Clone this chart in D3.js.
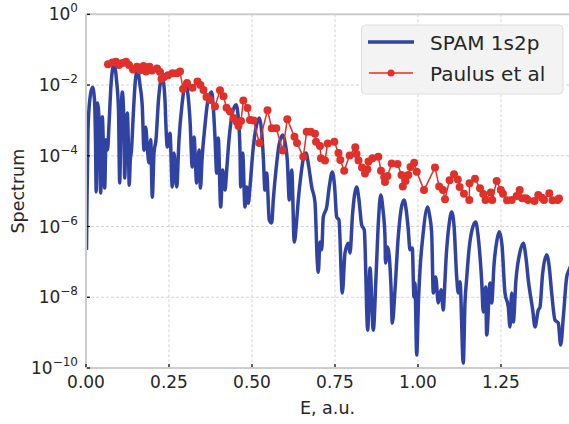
<!DOCTYPE html>
<html><head><meta charset="utf-8">
<script src="https://cdn.jsdelivr.net/npm/d3@7"></script>
<style>
body{margin:0;background:#fff}
svg{display:block}
text{font-family:"DejaVu Sans",sans-serif;fill:#262626}
</style>
</head><body>
<svg id="c" width="569" height="424"></svg>
<script>
// ---- data (E in a.u.; spectrum as log10 values) ----
const spamE = [
0.0015,0.0030,0.0060,0.0120,0.0196,0.0256,0.0286,0.0307,0.0340,0.0392,0.0443,0.0491,0.0527,0.0563,0.0602,0.0648,0.0693,0.0753,0.0843,
0.0919,0.0979,0.1015,0.1054,0.1093,0.1139,0.1166,0.1205,0.1244,0.1280,0.1301,0.1334,0.1370,0.1416,0.1476,0.1551,
0.1626,0.1696,0.1747,0.1798,0.1852,0.1898,0.1949,0.1997,0.2048,0.2108,0.2184,0.2298,
0.2379,0.2401,0.2449,0.2530,0.2599,0.2650,0.2732,0.2801,0.2891,0.3003,
0.3072,0.3133,0.3202,0.3253,0.3334,0.3404,0.3449,0.3494,0.3585,0.3675,0.3786,
0.3840,0.3885,0.3937,0.3985,0.4057,0.4117,0.4187,0.4238,0.4307,0.4398,0.4518,
0.4593,0.4638,0.4660,0.4720,0.4789,0.4840,0.4888,0.4940,0.5030,0.5120,0.5220,
0.5286,0.5340,0.5391,0.5442,0.5521,0.5593,0.5641,0.5723,0.5813,0.5925,
0.5994,0.6063,0.6124,0.6196,0.6274,0.6346,0.6394,0.6475,0.6551,0.6626,
0.6702,0.6798,0.6897,0.6967,0.6997,0.7048,0.7099,0.7147,0.7250,0.7334,0.7418,
0.7485,0.7551,0.7620,0.7720,0.7801,0.7900,0.7952,0.8027,0.8153,
0.8223,0.8304,0.8382,0.8485,0.8554,0.8653,0.8735,0.8810,0.8876,
0.8946,0.9006,0.9021,0.9087,0.9187,0.9226,0.9307,0.9398,0.9488,0.9578,
0.9653,0.9708,0.9759,0.9828,0.9879,0.9909,0.9961,1.0015,1.0060,1.0150,1.0292,
1.0346,1.0412,1.0461,1.0533,1.0611,1.0693,1.0762,1.0798,1.0843,1.0934,1.1015,
1.1084,1.1166,1.1214,1.1265,1.1364,1.1415,1.1467,1.1536,1.1626,1.1738,
1.1807,1.1919,1.1967,1.2039,1.2069,1.2169,1.2220,1.2289,1.2379,1.2449,
1.2530,1.2620,1.2720,1.2771,1.2822,1.2870,1.2951,1.3072,1.3171,
1.3253,1.3322,1.3455,1.3524,1.3623,1.3674,1.3750,1.3876,
1.3946,1.4027,1.4126,1.4226,1.4298,1.4377,1.4479,1.4548,1.4668];
const spamLog10 = [
-6.66,-5.25,-3.27,-2.37,-2.06,-2.42,-3.55,-5.02,-2.51,-2.93,-5.05,-2.90,-3.84,-4.91,-3.55,-3.84,-3.13,-2.00,-1.41,
-1.86,-2.71,-4.77,-2.99,-2.20,-2.99,-4.63,-3.27,-2.79,-3.84,-4.83,-4.12,-3.84,-2.99,-2.00,-1.57,
-2.00,-2.62,-3.84,-3.19,-3.84,-4.20,-3.55,-5.17,-3.92,-3.55,-2.42,-1.77,
-2.42,-2.99,-3.75,-3.36,-4.88,-3.92,-4.88,-3.55,-2.56,-1.94,
-2.28,-2.99,-4.32,-3.47,-4.77,-3.84,-4.91,-4.12,-3.13,-2.42,-2.20,
-2.71,-3.47,-4.49,-3.50,-5.45,-4.40,-4.97,-4.40,-3.55,-2.85,-2.56,
-2.99,-3.84,-4.88,-3.92,-5.45,-4.88,-5.34,-4.88,-3.84,-3.21,-2.93,
-3.27,-4.03,-4.97,-4.49,-5.82,-5.90,-5.25,-4.40,-3.70,-3.41,
-3.61,-4.12,-5.25,-4.40,-6.44,-5.82,-5.25,-4.54,-4.06,-3.92,
-4.26,-4.88,-5.31,-7.00,-7.29,-6.44,-6.66,-5.73,-5.45,-4.83,-4.46,
-4.83,-5.73,-5.82,-7.88,-6.75,-6.47,-6.75,-5.67,-4.88,
-5.25,-5.96,-6.10,-8.93,-7.17,-8.93,-7.43,-5.82,-5.11,
-5.53,-6.30,-7.03,-6.58,-7.71,-8.73,-7.79,-6.38,-5.53,-5.25,
-5.59,-6.10,-6.66,-6.61,-7.99,-7.60,-9.63,-8.08,-7.23,-6.24,-5.45,
-5.67,-6.18,-7.88,-7.43,-8.16,-7.79,-8.36,-7.79,-6.95,-5.96,-5.59,
-5.96,-7.43,-7.88,-7.56,-9.86,-8.16,-7.46,-6.66,-6.10,-5.87,
-6.24,-7.56,-8.42,-7.71,-9.07,-7.60,-8.16,-7.09,-6.38,-6.15,
-6.52,-7.88,-8.28,-8.84,-7.88,-8.70,-7.51,-6.72,-6.47,
-6.89,-7.51,-8.36,-8.84,-8.36,-8.28,-7.37,-6.80,
-7.09,-7.88,-8.64,-8.73,-9.35,-8.56,-7.43,-7.23,-7.00];

const paulusE = [
0.0663,0.0798,0.0904,0.0994,0.1099,0.1205,0.1295,0.1416,0.1536,0.1626,0.1732,0.1807,0.1913,0.1988,0.2139,
0.2229,0.2274,0.2349,0.2470,0.2605,0.2741,0.2831,0.2922,0.3042,0.3208,0.3358,0.3449,0.3539,0.3629,0.3735,
0.3885,0.4036,0.4142,0.4232,0.4337,0.4443,0.4539,0.4593,0.4669,0.4738,0.4864,0.4940,0.5045,0.5220,0.5467,
0.5593,0.5732,0.5925,0.6063,0.6280,0.6355,0.6545,0.6647,0.6768,0.6897,0.6928,0.7048,0.7078,0.7199,0.7280,
0.7479,0.7605,0.7660,0.7777,0.7940,0.8111,0.8147,0.8208,0.8313,0.8403,0.8479,0.8509,0.8629,0.8804,0.8885,
0.8982,0.9006,0.9081,0.9208,0.9382,0.9503,0.9542,0.9623,0.9708,0.9774,0.9885,0.9961,1.0181,1.0512,1.0638,
1.0753,1.0813,1.0952,1.1084,1.1199,1.1256,1.1385,1.1545,1.1551,1.1717,1.1867,1.1967,1.2033,1.2193,1.2235,
1.2370,1.2494,1.2560,1.2681,1.2822,1.2973,1.3063,1.3138,1.3253,1.3313,1.3509,1.3623,1.3735,1.3795,1.3955,
1.4051,1.4202,1.4247];
const paulusLog10 = [
-1.41,-1.36,-1.34,-1.43,-1.38,-1.34,-1.43,-1.56,-1.48,-1.58,-1.46,-1.62,-1.48,-1.59,-1.53,
-1.63,-1.83,-1.77,-1.72,-1.67,-1.67,-1.62,-2.11,-1.94,-2.08,-1.90,-2.00,-2.14,-2.34,-2.42,
-2.61,-2.15,-2.32,-2.64,-2.75,-2.93,-3.04,-3.16,-3.02,-2.44,-2.65,-2.99,-3.00,-3.64,-2.71,
-3.22,-3.22,-3.85,-2.97,-3.46,-3.64,-4.03,-3.32,-3.32,-3.38,-3.60,-3.72,-4.07,-4.13,-3.65,
-3.60,-3.92,-4.12,-4.42,-3.99,-3.76,-3.95,-4.13,-4.33,-4.50,-4.38,-4.16,-4.07,-4.03,-4.42,
-4.60,-4.74,-4.57,-4.22,-4.23,-4.54,-4.87,-4.71,-4.54,-4.32,-4.20,-4.45,-4.97,-4.33,-4.87,
-4.97,-5.23,-4.69,-4.52,-4.67,-4.88,-5.07,-5.25,-4.78,-4.65,-4.92,-5.08,-5.25,-5.04,-5.25,
-4.71,-4.97,-5.07,-5.26,-5.25,-5.14,-4.97,-5.20,-5.20,-5.25,-5.28,-5.11,-5.19,-5.25,-5.06,
-5.26,-5.25,-5.21];

const seriesNames = ["SPAM 1s2p", "Paulus et al"];
const seriesColors = ["#3043a2", "#e0302a"];
const xTicks = [0, 0.25, 0.5, 0.75, 1.0, 1.25];
const xTickLabels = ["0.00", "0.25", "0.50", "0.75", "1.00", "1.25"];
const yTickExps = [0, -2, -4, -6, -8, -10];
const xLabel = "E, a.u.";
const yLabel = "Spectrum";

// ---- layout ----
const svg = d3.select("#c");
const L = 86, R = 575, T = 14.3, B = 368;
const x = d3.scaleLinear().domain([0, 1.4729]).range([L, R]);
const y = d3.scaleLog().domain([1e-10, 1]).range([B, T]);

const spam = spamE.map((e, i) => ({e, v: Math.pow(10, spamLog10[i])}));
const paulus = paulusE.map((e, i) => ({e, v: Math.pow(10, paulusLog10[i])}));

svg.append("defs").append("clipPath").attr("id", "clip")
  .append("rect").attr("x", L).attr("y", T).attr("width", R - L).attr("height", B - T);

// grid
const grid = svg.append("g");
grid.selectAll("line.gx").data(xTicks.slice(1)).enter().append("line")
  .attr("x1", d => x(d)).attr("x2", d => x(d)).attr("y1", T).attr("y2", B)
  .attr("stroke", "#d4d4d4").attr("stroke-width", 1).attr("stroke-dasharray", "3,2");
grid.selectAll("line.gy").data(yTickExps.slice(1, -1)).enter().append("line")
  .attr("x1", L).attr("x2", R).attr("y1", d => y(Math.pow(10, d))).attr("y2", d => y(Math.pow(10, d)))
  .attr("stroke", "#d4d4d4").attr("stroke-width", 1).attr("stroke-dasharray", "3,2");

// data
const plot = svg.append("g").attr("clip-path", "url(#clip)");
plot.append("path").datum(spam)
  .attr("d", d3.line().x(d => x(d.e)).y(d => y(d.v)).curve(d3.curveMonotoneX))
  .attr("fill", "none").attr("stroke", seriesColors[0]).attr("stroke-width", 3.5)
  .attr("stroke-linejoin", "round");
plot.append("path").datum(paulus)
  .attr("d", d3.line().x(d => x(d.e)).y(d => y(d.v)))
  .attr("fill", "none").attr("stroke", seriesColors[1]).attr("stroke-width", 1.5);
plot.selectAll("circle").data(paulus).enter().append("circle")
  .attr("cx", d => x(d.e)).attr("cy", d => y(d.v)).attr("r", 4)
  .attr("fill", seriesColors[1]);

// spines
svg.append("line").attr("x1", L).attr("x2", R).attr("y1", T).attr("y2", T).attr("stroke", "#cccccc").attr("stroke-width", 2);
svg.append("line").attr("x1", L).attr("x2", R).attr("y1", B).attr("y2", B).attr("stroke", "#cccccc").attr("stroke-width", 2);
svg.append("line").attr("x1", L).attr("x2", L).attr("y1", T).attr("y2", B).attr("stroke", "#cccccc").attr("stroke-width", 2);

// x axis ticks & labels
const xa = svg.append("g");
xa.selectAll("line").data(xTicks).enter().append("line")
  .attr("x1", d => x(d)).attr("x2", d => x(d)).attr("y1", B - 1).attr("y2", B - 4)
  .attr("stroke", "#000").attr("stroke-width", 1.2);
xa.selectAll("text").data(xTicks).enter().append("text")
  .attr("x", d => x(d)).attr("y", 388).attr("text-anchor", "middle")
  .attr("font-size", 17).text((d, i) => xTickLabels[i]);

// y axis ticks & labels
const ya = svg.append("g");
ya.selectAll("line").data(yTickExps).enter().append("line")
  .attr("x1", L + 1).attr("x2", L + 4).attr("y1", d => y(Math.pow(10, d))).attr("y2", d => y(Math.pow(10, d)))
  .attr("stroke", "#000").attr("stroke-width", 1.2);
const yt = ya.selectAll("text").data(yTickExps).enter().append("text")
  .attr("x", 78).attr("y", d => y(Math.pow(10, d)) + 6).attr("text-anchor", "end")
  .attr("font-size", 17);
yt.append("tspan").text("10");
yt.append("tspan").attr("dy", -8).attr("font-size", 12).text(d => d === 0 ? "0" : "\u2212" + Math.abs(d));

// axis labels
svg.append("text").attr("x", (L + 569) / 2).attr("y", 414).attr("text-anchor", "middle")
  .attr("font-size", 17.5).text(xLabel);
svg.append("text").attr("transform", `translate(24,${(T + B) / 2}) rotate(-90)`)
  .attr("text-anchor", "middle").attr("font-size", 17.5).text(yLabel);

// legend
const lg = svg.append("g");
lg.append("rect").attr("x", 361.5).attr("y", 25).attr("width", 201.5).attr("height", 69)
  .attr("rx", 4).attr("fill", "#f2f2f2").attr("fill-opacity", 0.92).attr("stroke", "#dedede");
lg.append("line").attr("x1", 368).attr("x2", 414).attr("y1", 42).attr("y2", 42)
  .attr("stroke", seriesColors[0]).attr("stroke-width", 3.5);
lg.append("line").attr("x1", 369).attr("x2", 413).attr("y1", 73).attr("y2", 73)
  .attr("stroke", seriesColors[1]).attr("stroke-width", 1.5);
lg.append("circle").attr("cx", 391).attr("cy", 73).attr("r", 3.5).attr("fill", seriesColors[1]);
lg.append("text").attr("x", 430).attr("y", 50).attr("font-size", 20).text(seriesNames[0]);
lg.append("text").attr("x", 430).attr("y", 81).attr("font-size", 20).text(seriesNames[1]);
</script>
</body></html>
